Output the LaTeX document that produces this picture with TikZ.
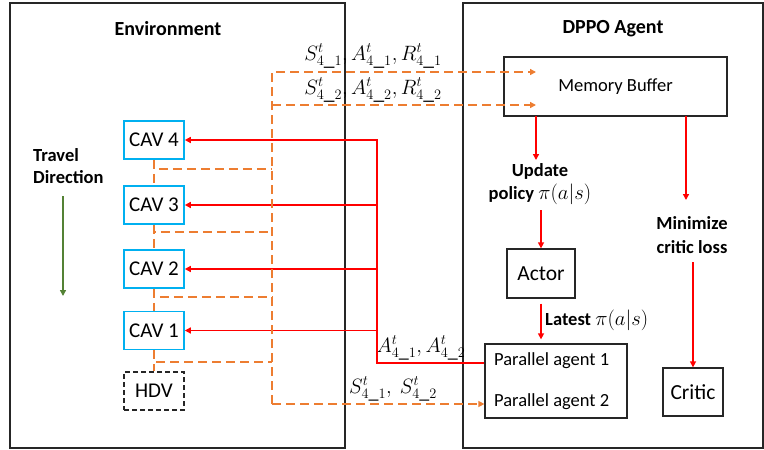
\documentclass[tikz,border=0pt]{standalone}
\usepackage{fontspec}
\setmainfont{Carlito}
\usetikzlibrary{arrows.meta,calc}
\definecolor{cavblue}{RGB}{0,176,240}
\definecolor{odash}{RGB}{237,125,49}
\definecolor{tgreen}{RGB}{84,130,53}
\newcommand{\lgmath}[1]{{\fontsize{21.5}{24}\selectfont$#1$}}
\newcommand{\mdmath}[1]{{\fontsize{20}{24}\selectfont$#1$}}
\begin{document}
\begin{tikzpicture}[x=1pt,y=-1pt,
  panel/.style={draw=black!85,line width=1.5pt,inner sep=0pt},
  box/.style={draw=black!85,line width=1.3pt,inner sep=0pt,font=\fontsize{18.5}{22}\selectfont},
  bigbox/.style={box,font=\fontsize{21.5}{24}\selectfont},
  cav/.style={draw=cavblue,line width=1.6pt,minimum width=60pt,minimum height=38pt,inner sep=0pt,font=\fontsize{21}{24}\selectfont},
  hdvbox/.style={draw=black!85,line width=1.5pt,dash pattern=on 5pt off 3pt,minimum width=60pt,minimum height=38pt,inner sep=0pt,font=\fontsize{21}{24}\selectfont},
  title/.style={font=\fontsize{20}{24}\selectfont\bfseries,inner sep=0pt},
  txt/.style={font=\fontsize{18.5}{23}\selectfont,inner sep=0pt},
  odline/.style={draw=odash,line width=1.6pt,dash pattern=on 9pt off 5pt},
  rline/.style={draw=red,line width=1.4pt},
  tip/.style={-{Triangle[length=6pt,width=6pt]}}
]
\useasboundingbox (0,0) rectangle (764,450);
% panels
\node[panel,minimum width=335pt,minimum height=445pt] (env) at (177.5,225.5) {};
\node[panel,minimum width=300pt,minimum height=445pt] (agent) at (613,225.5) {};
\node[title] (envt) at (168,29) {Environment};
\node[title] (agt) at (613,29) {DPPO Agent};
% environment nodes
\node[cav] (cav4) at (154,140) {CAV 4};
\node[cav] (cav3) at (154,205) {CAV 3};
\node[cav] (cav2) at (154,269) {CAV 2};
\node[cav] (cav1) at (154,330.5) {CAV 1};
\node[hdvbox] (hdv) at (154,391) {HDV};
\node[txt,font=\fontsize{18.5}{22}\selectfont\bfseries,align=left,anchor=west] (trav) at (33,166) {Travel\\Direction};
\coordinate (g1) at (63,196);
\coordinate (g2) at (63,296);
\draw[draw=tgreen,line width=1.4pt,tip] (g1) -- (g2);
% agent nodes
\node[box,minimum width=223pt,minimum height=59pt] (mem) at (615.5,86.5) {Memory Buffer};
\node[bigbox,minimum width=68pt,minimum height=49pt] (actor) at (541,273.5) {Actor};
\node[box,minimum width=142pt,minimum height=74pt] (par) at (556,381) {};
\node[txt,anchor=west] (pa1) at (494,361) {Parallel agent 1};
\node[txt,anchor=west] (pa2) at (494,402) {Parallel agent 2};
\node[bigbox,minimum width=60pt,minimum height=48pt] (crit) at (693,392) {Critic};
\node[txt,align=center] (upd) at (540,184) {\textbf{Update}\\\textbf{policy} \lgmath{\pi(a|s)}};
\node[txt,anchor=west] (lat) at (545,320) {\textbf{Latest} \lgmath{\pi(a|s)}};
\node[txt,align=center,font=\fontsize{18.5}{24}\selectfont\bfseries] (mini) at (692,235) {Minimize\\critic loss};
% labels
\node[txt] (l1) at (373,56) {\lgmath{S^t_{4\_1}, A^t_{4\_1}, R^t_{4\_1}}};
\node[txt] (l2) at (373,90) {\lgmath{S^t_{4\_2}, A^t_{4\_2}, R^t_{4\_2}}};
\node[txt] (l3) at (421,348) {\mdmath{A^t_{4\_1}, A^t_{4\_2}}};
\node[txt] (l4) at (393,389) {\mdmath{S^t_{4\_1},\ S^t_{4\_2}}};
% agent arrows
\coordinate (m1) at (536,116);
\coordinate (m1e) at (536,160);
\draw[rline,tip] (m1) -- (m1e);
\draw[rline,tip] ($(actor.north)+(0,-38)$) -- (actor.north);
\draw[rline,tip] ($(actor.south)+(0,5)$) -- ($(par.north -| actor)+(0,-4)$);
\coordinate (c1) at (686,116);
\coordinate (c1e) at (686,200);
\draw[rline,tip] (c1) -- (c1e);
\draw[rline,tip] ($(crit.north)+(0,-105)$) -- (crit.north);
% red action lines
\coordinate (rb) at (377,363);
\coordinate (rt) at (377,140);
\draw[rline,tip] (par.west |- rb) -- (rb) -- (rt) -- (cav4.east);
\draw[rline,tip] (rt |- cav3.east) -- (cav3.east);
\draw[rline,tip] (rt |- cav2.east) -- (cav2.east);
\draw[rline,tip] (rt |- cav1.east) -- (cav1.east);
% orange observation lines
\coordinate (ot) at (272,72);
\coordinate (om) at (272,105);
\coordinate (ob) at (272,404);
\coordinate (a1) at (536,72);
\coordinate (a2) at (536,105);
\draw[odline,tip] (ob) -- (ot) -- (a1);
\draw[odline,tip] (om) -- (a2);
\draw[odline,tip] (ob) -- (par.west |- ob);
\coordinate (h4) at (272,169);
\coordinate (h3) at (272,232);
\coordinate (h2) at (272,297);
\coordinate (h1) at (272,362);
\draw[odline] (cav4.south) |- (h4);
\draw[odline] (cav3.south) |- (h3);
\draw[odline] (cav2.south) |- (h2);
\draw[odline] (cav1.south) |- (h1);
\draw[odline] (cav4.south) -- (cav3.north);
\draw[odline] (cav3.south) -- (cav2.north);
\draw[odline] (cav2.south) -- (cav1.north);
\draw[odline] (cav1.south) -- (hdv.north);
\end{tikzpicture}
\end{document}
